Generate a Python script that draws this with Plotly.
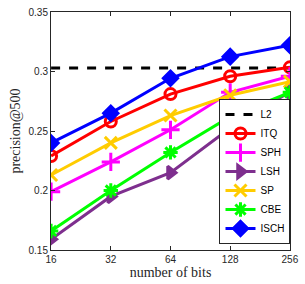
import math
import plotly.graph_objects as go

bits = [16, 32, 64, 128, 256]
l2 = [0.303, 0.303, 0.303, 0.303, 0.303]
itq = [0.229, 0.258, 0.281, 0.296, 0.3035]
sph = [0.199, 0.224, 0.251, 0.2825, 0.296]
lsh = [0.159, 0.195, 0.215, 0.2525, 0.283]
sp = [0.213, 0.240, 0.263, 0.280, 0.2915]
cbe = [0.166, 0.200, 0.232, 0.262, 0.2825]
isch = [0.240, 0.265, 0.2943, 0.3125, 0.322]

fig = go.Figure()
fig.add_trace(go.Scatter(x=bits, y=l2, name="L2", mode="lines",
                         line=dict(color="black", width=3, dash="dash")))
series = [
    ("ITQ", itq, "#FF0000", "circle-open", 11),
    ("SPH", sph, "#FF00FF", "cross-thin-open", 13),
    ("LSH", lsh, "#7E2F8E", "triangle-right", 11),
    ("SP", sp, "#FFCC00", "x-thin-open", 12),
    ("CBE", cbe, "#00FF00", "asterisk-open", 12),
    ("ISCH", isch, "#0000FF", "diamond", 11),
]
for name, vals, col, sym, sz in series:
    fig.add_trace(go.Scatter(
        x=bits, y=vals, name=name, mode="lines+markers",
        line=dict(color=col, width=3),
        marker=dict(symbol=sym, size=sz, color=col,
                    line=dict(color=col, width=3))))

fig.update_layout(
    width=305, height=284,
    margin=dict(l=51, r=9, t=6, b=34),
    plot_bgcolor="white", paper_bgcolor="white",
    font=dict(family="Liberation Sans", size=10, color="#262626"),
    legend=dict(x=0.705, y=0.025, xanchor="left", yanchor="bottom",
                bgcolor="white", bordercolor="#262626", borderwidth=1,
                font=dict(family="Liberation Sans", size=10, color="black"),
                tracegroupgap=0, itemwidth=30),
    showlegend=True,
)
fig.update_xaxes(type="log", tickvals=bits, ticktext=[str(b) for b in bits],
                 range=[math.log10(bits[0]) - 0.0005, math.log10(bits[-1]) + 0.0005],
                 showgrid=False, zeroline=False,
                 showline=True, linecolor="#262626", linewidth=1, mirror="ticks",
                 ticks="inside", ticklen=4, tickcolor="#262626",
                 ticklabeloverflow="allow",
                 title=dict(text="number of bits", standoff=2,
                            font=dict(family="Liberation Serif", size=14, color="#262626")))
fig.update_yaxes(range=[0.15, 0.35], tickvals=[0.15, 0.2, 0.25, 0.3, 0.35],
                 ticktext=["0.15", "0.2", "0.25", "0.3", "0.35"],
                 showgrid=False, zeroline=False,
                 showline=True, linecolor="#262626", linewidth=1, mirror="ticks",
                 ticks="inside", ticklen=4, tickcolor="#262626",
                 ticklabeloverflow="allow",
                 title=dict(text="precision@500", standoff=4,
                            font=dict(family="Liberation Serif", size=14, color="#262626")))
fig.write_html("out.html", config={"displayModeBar": False},
               post_script="document.body.style.margin='0';document.body.style.overflow='hidden';")
